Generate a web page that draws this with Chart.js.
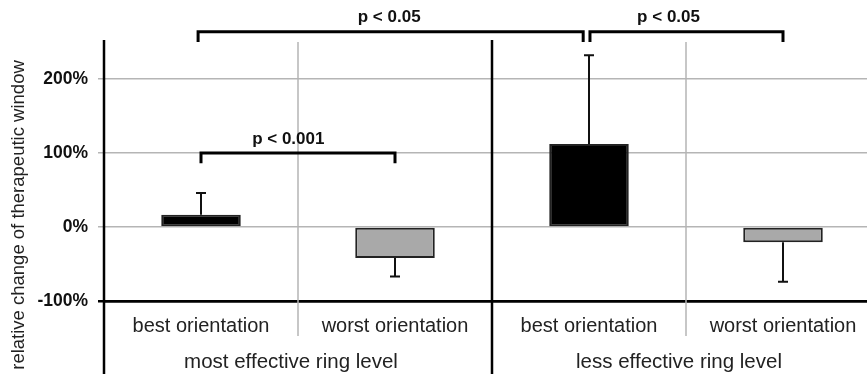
<!DOCTYPE html>
<html>
<head>
<meta charset="utf-8">
<script src="https://cdn.jsdelivr.net/npm/chart.js@4"></script>
<style>
html, body { margin: 0; padding: 0; overflow: hidden; background: #fff; }
#wrap { position: absolute; left: 0; top: 0; width: 880px; height: 374px; }
</style>
</head>
<body>
<div id="wrap"><canvas id="canvas1"></canvas></div>
<script>
const categories = ['best orientation', 'worst orientation', 'best orientation', 'worst orientation'];
const groups = ['most effective ring level', 'less effective ring level'];
const values = [16.5, -42, 112, -20.5];
const errors = [29.5, 25, 120, 53.5];
const barColors = ['#000000', '#a9a9a9', '#000000', '#a9a9a9'];
const yTicks = [-100, 0, 100, 200];
const yMin = -100;
const yMax = 250;
const yTitle = 'relative change of therapeutic window';

// significance brackets (category index / value units)
const brackets = [
  { from: 0, to: 1, y: 100, drop: 14, text: 'p < 0.001', at: 0.45, ty: 119 },
  { from: -0.015, to: 1.97, y: 264, drop: 14, text: 'p < 0.05', at: 0.97, ty: 284 },
  { from: 2.005, to: 3, y: 264, drop: 14, text: 'p < 0.05', at: 2.41, ty: 284 },
];

const FONT = "'Liberation Sans', Arial, sans-serif";

const extras = {
  id: 'extras',
  beforeDatasetsDraw(chart) {
    const { ctx, scales: { x, x2 } } = chart;
    const top = chart.chartArea.top;
    ctx.save();
    for (let i = 0; i <= categories.length; i++) {
      const xb = x.getPixelForValue(i - 0.5);
      if (i % 2 === 0) {
        ctx.strokeStyle = '#000';
        ctx.lineWidth = 2.5;
        ctx.beginPath(); ctx.moveTo(xb, top - 2); ctx.lineTo(xb, chart.height); ctx.stroke();
      } else {
        ctx.strokeStyle = '#b5b5b5';
        ctx.lineWidth = 1.5;
        ctx.beginPath(); ctx.moveTo(xb, top); ctx.lineTo(xb, x2.top); ctx.stroke();
      }
    }
    ctx.restore();
  },
  afterDatasetsDraw(chart) {
    const { ctx, scales: { x, y } } = chart;
    ctx.save();
    // error bars
    ctx.strokeStyle = '#111';
    ctx.lineWidth = 2;
    values.forEach((v, i) => {
      const px = x.getPixelForValue(i);
      const dir = v >= 0 ? 1 : -1;
      const y0 = y.getPixelForValue(v);
      const y1 = y.getPixelForValue(v + dir * errors[i]);
      ctx.beginPath();
      ctx.moveTo(px, y0); ctx.lineTo(px, y1);
      ctx.moveTo(px - 5, y1); ctx.lineTo(px + 5, y1);
      ctx.stroke();
    });
    // brackets
    ctx.lineWidth = 3;
    ctx.strokeStyle = '#000';
    ctx.fillStyle = '#111';
    ctx.font = 'bold 17px ' + FONT;
    ctx.textAlign = 'center';
    ctx.textBaseline = 'middle';
    brackets.forEach(b => {
      const xa = x.getPixelForValue(b.from), xe = x.getPixelForValue(b.to);
      const yb = y.getPixelForValue(b.y), yd = y.getPixelForValue(b.y - b.drop);
      ctx.beginPath();
      ctx.moveTo(xa, yd); ctx.lineTo(xa, yb); ctx.lineTo(xe, yb); ctx.lineTo(xe, yd);
      ctx.stroke();
      ctx.fillText(b.text, x.getPixelForValue(b.at), y.getPixelForValue(b.ty));
    });
    // y axis title
    ctx.font = '18.5px ' + FONT;
    ctx.fillStyle = '#222';
    ctx.translate(19, 215);
    ctx.rotate(-Math.PI / 2);
    ctx.fillText(yTitle, 0, 0);
    ctx.restore();
  }
};

const canvas = document.getElementById('canvas1');
const ctx = canvas.getContext('2d');

const data = {
  labels: categories,
  datasets: [{
    data: values,
    backgroundColor: barColors,
    borderColor: '#222',
    borderWidth: 2,
    borderSkipped: false,
    barPercentage: 0.41,
    categoryPercentage: 1
  }]
};

const options = {
  responsive: true,
  maintainAspectRatio: false,
  animation: false,
  layout: { padding: { top: 42, left: 0, right: 0, bottom: 0 } },
  plugins: { legend: { display: false }, tooltip: { enabled: false } },
  scales: {
    x: {
      type: 'category',
      offset: true,
      weight: 0,
      grid: { display: false },
      border: { color: '#000', width: 2.5 },
      ticks: { font: { family: FONT, size: 20 }, color: '#222', padding: 5 },
      afterFit(s) { s.height = 35; }
    },
    x2: {
      type: 'category',
      labels: groups,
      position: 'bottom',
      offset: true,
      weight: 1,
      grid: { display: false },
      border: { display: false },
      ticks: { font: { family: FONT, size: 20.5 }, color: '#222', padding: 6, labelOffset: -7 },
      afterFit(s) { s.height = 38; }
    },
    y: {
      min: yMin,
      max: yMax,
      afterBuildTicks(s) { s.ticks = yTicks.map(v => ({ value: v })); },
      grid: {
        color: c => (c.tick && c.tick.value === yMin) ? '#000' : '#b5b5b5',
        lineWidth: c => (c.tick && c.tick.value === yMin) ? 2.5 : 1.5,
        tickLength: 6
      },
      border: { display: false },
      ticks: {
        font: { family: FONT, size: 17.5, weight: 'bold' },
        color: '#111',
        padding: 10,
        callback: v => v + '%'
      },
      afterFit(s) { s.width = 104; }
    }
  }
};

const myChart = new Chart(ctx, {
  type: 'bar',
  data: data,
  options: options,
  plugins: [extras]
});
</script>
</body>
</html>
